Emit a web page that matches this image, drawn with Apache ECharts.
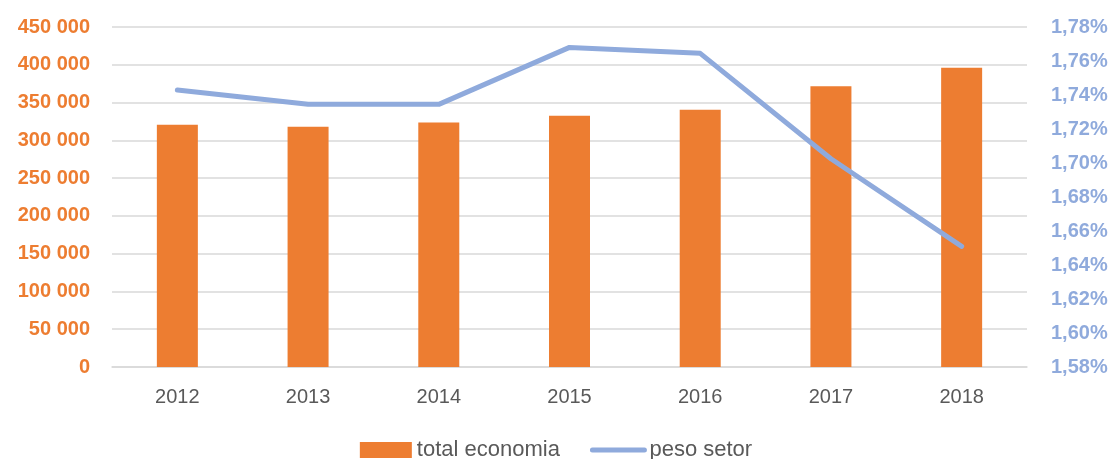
<!DOCTYPE html>
<html>
<head>
<meta charset="utf-8">
<script src="https://cdn.jsdelivr.net/npm/echarts@6/dist/echarts.min.js"></script>
<style>
  html, body { margin: 0; padding: 0; background: #fff; }
  #chart { width: 1112px; height: 459px; }
</style>
</head>
<body>
<div id="chart"></div>
<script>
// dados do gráfico
var anos = ['2012', '2013', '2014', '2015', '2016', '2017', '2018'];
var totalEconomia = [320500, 318000, 323500, 332500, 340500, 371500, 396000];
var pesoSetor = [1.743, 1.7345, 1.7345, 1.768, 1.7645, 1.7025, 1.651];

var chart = echarts.init(document.getElementById('chart'));

function milhares(v) {
  return String(v).replace(/\B(?=(\d{3})+(?!\d))/g, ' ');
}

var option = {
  animation: false,
  textStyle: {fontFamily: 'Liberation Sans'},
  grid: {left: 112, right: 85, top: 27, bottom: 92},
  legend: {
    top: 434, left: 'center', itemGap: 30, itemWidth: 52, itemHeight: 16,
    textStyle: {color: '#595959', fontSize: 22},
    data: [
      {name: 'total economia', icon: 'rect'},
      {name: 'peso setor', lineStyle: {width: 5, cap: 'round'}, itemStyle: {opacity: 0}}
    ]
  },
  xAxis: [{
    type: 'category',
    data: anos,
    axisLine: {lineStyle: {color: '#D9D9D9', width: 1.5}},
    axisTick: {show: false},
    axisLabel: {color: '#595959', fontSize: 20, margin: 20}
  }],
  yAxis: [{
    type: 'value', min: 0, max: 450000, interval: 50000,
    axisLine: {show: false}, axisTick: {show: false},
    splitLine: {lineStyle: {color: '#D9D9D9', width: 1.5}},
    axisLabel: {color: '#ED7D31', fontSize: 20, fontWeight: 'bold', margin: 22, formatter: milhares}
  }, {
    type: 'value', min: 1.58, max: 1.78, interval: 0.02, position: 'right',
    axisLine: {show: false}, axisTick: {show: false}, splitLine: {show: false},
    axisLabel: {
      color: '#8FAADC', fontSize: 20, fontWeight: 'bold', margin: 24,
      formatter: function (v) { return v.toFixed(2).replace('.', ',') + '%'; }
    }
  }],
  series: [{
    name: 'total economia',
    type: 'bar',
    barWidth: 41,
    itemStyle: {color: '#ED7D31'},
    data: totalEconomia
  }, {
    name: 'peso setor',
    type: 'line',
    yAxisIndex: 1,
    symbol: 'none',
    lineStyle: {color: '#8FAADC', width: 5, cap: 'round', join: 'round'},
    itemStyle: {color: '#8FAADC'},
    data: pesoSetor
  }]
};

chart.setOption(option);
</script>
</body>
</html>
